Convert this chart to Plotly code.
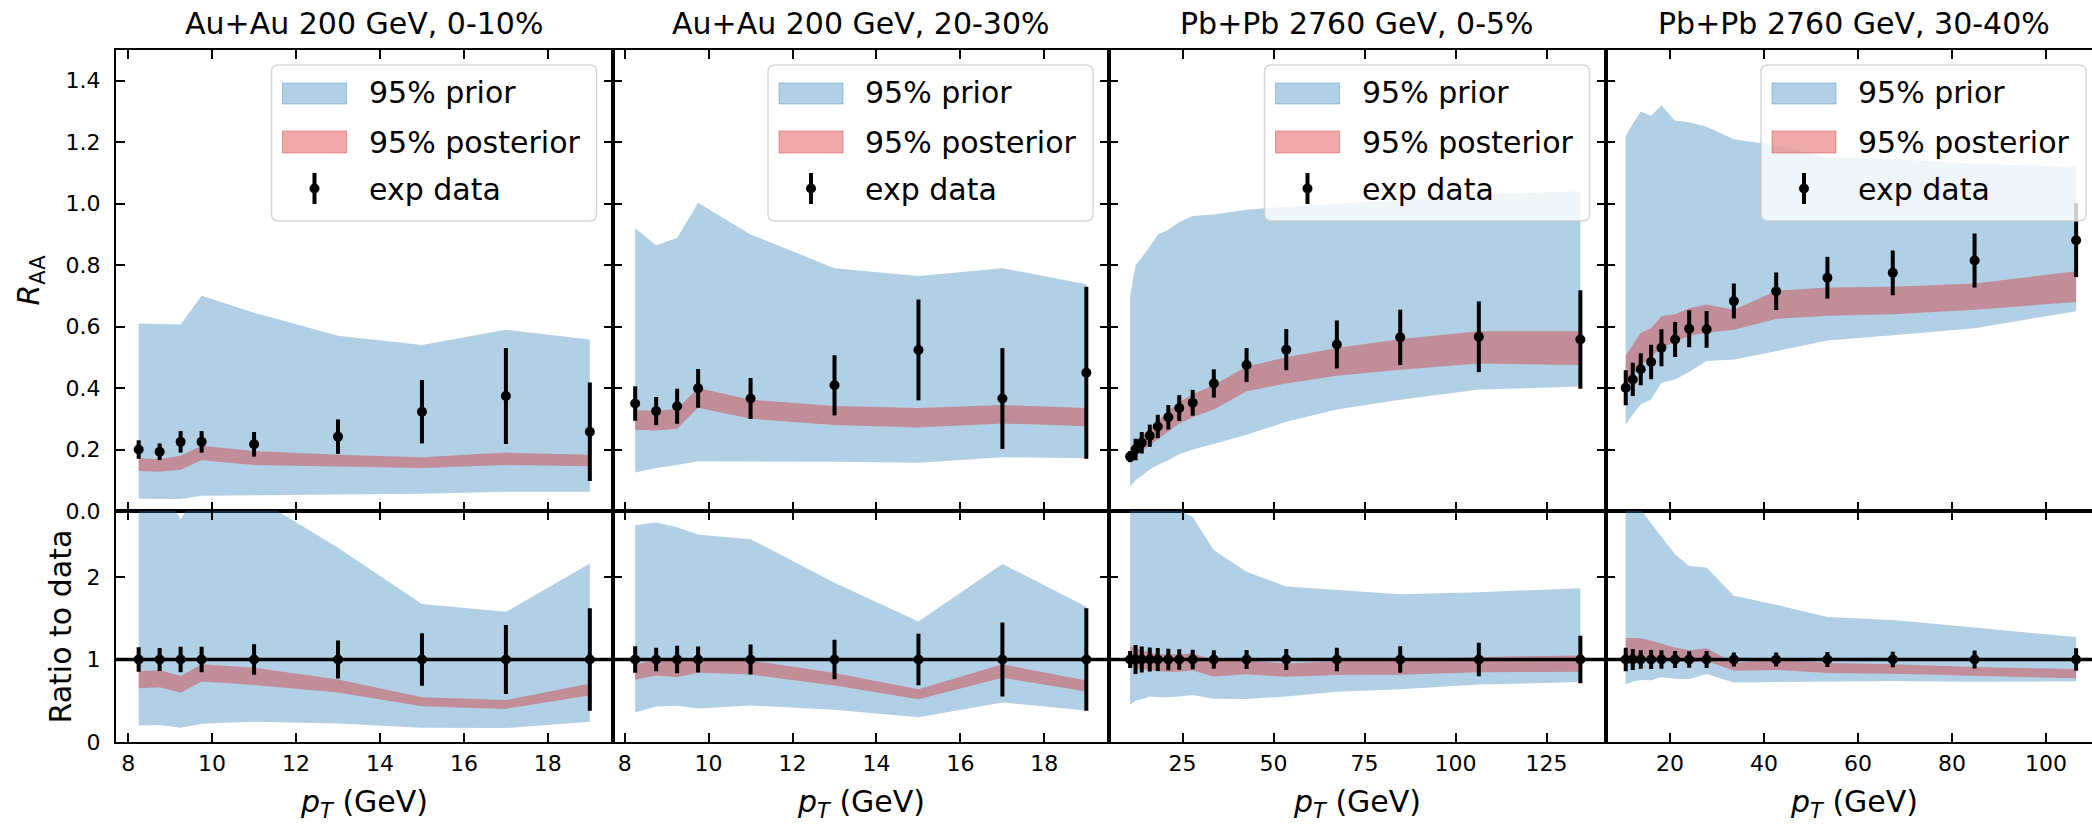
import plotly.graph_objects as go
from plotly.subplots import make_subplots

# ---------------------------------------------------------------- data ----
titles = ["Au+Au 200 GeV, 0-10%", "Au+Au 200 GeV, 20-30%",
          "Pb+Pb 2760 GeV, 0-5%", "Pb+Pb 2760 GeV, 30-40%"]

# pT bins (GeV)
pt_auau = [8.25, 8.75, 9.25, 9.75, 11.0, 13.0, 15.0, 17.0, 19.0]
pt_pbpb = [10.6, 12.1, 13.8, 16.0, 18.2, 21.1, 24.1, 27.8, 33.6, 42.6,
           53.5, 67.4, 84.8, 106.4, 134.3]

# Au+Au 200 GeV, 0-10%
raa_au_0010 = [0.200, 0.193, 0.225, 0.225, 0.217, 0.242, 0.323, 0.374, 0.258]
err_au_0010 = [0.030, 0.027, 0.035, 0.035, 0.040, 0.056, 0.103, 0.156, 0.160]
prior_lo_au_0010 = [0.040, 0.040, 0.039, 0.050, 0.053, 0.054, 0.056, 0.063, 0.063]
prior_hi_au_0010 = [0.610, 0.608, 0.607, 0.700, 0.645, 0.570, 0.540, 0.590, 0.558]
post_lo_au_0010 = [0.130, 0.128, 0.134, 0.165, 0.150, 0.145, 0.140, 0.150, 0.146]
post_hi_au_0010 = [0.172, 0.168, 0.180, 0.212, 0.195, 0.183, 0.175, 0.190, 0.183]

# Au+Au 200 GeV, 20-30%
raa_au_2030 = [0.350, 0.325, 0.341, 0.399, 0.366, 0.409, 0.524, 0.366, 0.450]
err_au_2030 = [0.056, 0.046, 0.057, 0.063, 0.067, 0.098, 0.164, 0.164, 0.280]
prior_lo_au_2030 = [0.125, 0.140, 0.150, 0.162, 0.162, 0.160, 0.157, 0.175, 0.172]
prior_hi_au_2030 = [0.920, 0.865, 0.888, 1.003, 0.900, 0.790, 0.765, 0.790, 0.738]
post_lo_au_2030 = [0.264, 0.262, 0.268, 0.336, 0.300, 0.280, 0.272, 0.285, 0.276]
post_hi_au_2030 = [0.328, 0.326, 0.332, 0.400, 0.362, 0.342, 0.335, 0.345, 0.335]

# Pb+Pb 2760 GeV, 0-5%
raa_pb_0005 = [0.177, 0.200, 0.222, 0.245, 0.275, 0.305, 0.335, 0.352, 0.415,
               0.475, 0.525, 0.542, 0.565, 0.567, 0.558]
err_pb_0005 = [0.018, 0.035, 0.035, 0.036, 0.038, 0.040, 0.042, 0.042, 0.046,
               0.055, 0.067, 0.078, 0.090, 0.115, 0.160]
prior_lo_pb_0005 = [0.080, 0.100, 0.115, 0.135, 0.150, 0.165, 0.185, 0.200, 0.218,
                    0.248, 0.290, 0.330, 0.362, 0.395, 0.405]
prior_hi_pb_0005 = [0.700, 0.800, 0.825, 0.860, 0.900, 0.915, 0.940, 0.960, 0.965,
                    0.980, 0.990, 1.000, 1.012, 1.030, 1.040]
post_lo_pb_0005 = [0.165, 0.180, 0.195, 0.215, 0.235, 0.260, 0.285, 0.305, 0.330,
                   0.390, 0.415, 0.440, 0.460, 0.480, 0.475]
post_hi_pb_0005 = [0.205, 0.230, 0.245, 0.268, 0.292, 0.325, 0.355, 0.380, 0.410,
                   0.470, 0.500, 0.530, 0.560, 0.585, 0.585]

# Pb+Pb 2760 GeV, 30-40% (no last bin)
raa_pb_3040 = [0.401, 0.428, 0.461, 0.485, 0.531, 0.558, 0.593, 0.591, 0.683,
               0.715, 0.759, 0.775, 0.815, 0.881]
err_pb_3040 = [0.057, 0.054, 0.052, 0.056, 0.060, 0.057, 0.060, 0.060, 0.057,
               0.061, 0.068, 0.073, 0.088, 0.120]
prior_lo_pb_3040 = [0.280, 0.314, 0.347, 0.363, 0.417, 0.428, 0.452, 0.488, 0.493,
                    0.520, 0.555, 0.572, 0.595, 0.650]
prior_hi_pb_3040 = [1.220, 1.260, 1.300, 1.285, 1.320, 1.270, 1.265, 1.250, 1.210,
                    1.190, 1.150, 1.145, 1.130, 1.120]
post_lo_pb_3040 = [0.400, 0.440, 0.475, 0.500, 0.530, 0.550, 0.570, 0.580, 0.590,
                   0.625, 0.635, 0.640, 0.655, 0.680]
post_hi_pb_3040 = [0.505, 0.540, 0.580, 0.595, 0.634, 0.640, 0.660, 0.672, 0.655,
                   0.716, 0.727, 0.730, 0.740, 0.780]

legend_labels = ["95% prior", "95% posterior", "exp data"]

panels = [
    dict(pt=pt_auau, raa=raa_au_0010, err=err_au_0010,
         prior=(prior_lo_au_0010, prior_hi_au_0010),
         post=(post_lo_au_0010, post_hi_au_0010),
         xr=(7.71, 19.54), dtick=2),
    dict(pt=pt_auau, raa=raa_au_2030, err=err_au_2030,
         prior=(prior_lo_au_2030, prior_hi_au_2030),
         post=(post_lo_au_2030, post_hi_au_2030),
         xr=(7.71, 19.54), dtick=2),
    dict(pt=pt_pbpb, raa=raa_pb_0005, err=err_pb_0005,
         prior=(prior_lo_pb_0005, prior_hi_pb_0005),
         post=(post_lo_pb_0005, post_hi_pb_0005),
         xr=(4.8, 141.2), dtick=25),
    dict(pt=pt_pbpb[:len(raa_pb_3040)], raa=raa_pb_3040, err=err_pb_3040,
         prior=(prior_lo_pb_3040, prior_hi_pb_3040),
         post=(post_lo_pb_3040, post_hi_pb_3040),
         xr=(6.3, 111.9), dtick=20),
]

# -------------------------------------------------------------- layout ----
FIG_W, FIG_H = 2092, 824
M_L, M_R, M_T, M_B = 116, 0, 50, 82
PLOT_W = FIG_W - M_L - M_R
PLOT_H = FIG_H - M_T - M_B
PANEL_W = 496.5
ROW_SPLIT = 511          # pixel row where the R_AA and ratio panels meet

PRIOR_FILL = "rgba(31,119,180,0.35)"
POST_FILL = "rgba(214,39,40,0.40)"
FONT = "DejaVu Sans"


def px_x(px):
    return (px - M_L) / PLOT_W


def px_y(py):
    return (FIG_H - M_B - py) / PLOT_H


fig = make_subplots(rows=2, cols=4, horizontal_spacing=0, vertical_spacing=0)

axis_style = dict(showline=True, linecolor="black", linewidth=2,
                  ticks="inside", ticklen=9, tickwidth=1.8, tickcolor="black",
                  showgrid=False, zeroline=False,
                  tickfont=dict(family=FONT, size=22, color="black"))

annotations = []
shapes = []


def band(x, lo, hi, color):
    return go.Scatter(x=list(x) + list(x)[::-1], y=list(hi) + list(lo)[::-1],
                      fill="toself", fillcolor=color, mode="lines",
                      line=dict(width=0), hoverinfo="skip", showlegend=False)


def points(x, y, e):
    return go.Scatter(x=x, y=y, mode="markers",
                      marker=dict(size=10, color="black"),
                      error_y=dict(type="data", array=e, thickness=4, width=0,
                                   color="black"),
                      showlegend=False)


for c, p in enumerate(panels):
    col = c + 1
    left = M_L + c * PANEL_W
    right_full = left + PANEL_W
    right = min(right_full, FIG_W)
    frac = (right - left) / PANEL_W
    x0, x1 = p["xr"]
    xrange = [x0, x0 + (x1 - x0) * frac]
    dom = [px_x(left), min(px_x(right), 1.0)]

    pt, raa, err = p["pt"], p["raa"], p["err"]
    plo, phi = p["prior"]
    qlo, qhi = p["post"]

    # upper row: R_AA
    fig.add_trace(band(pt, plo, phi, PRIOR_FILL), row=1, col=col)
    fig.add_trace(band(pt, qlo, qhi, POST_FILL), row=1, col=col)
    fig.add_trace(points(pt, raa, err), row=1, col=col)

    # lower row: everything divided by the measured value
    r_plo = [a / d for a, d in zip(plo, raa)]
    r_phi = [a / d for a, d in zip(phi, raa)]
    r_qlo = [a / d for a, d in zip(qlo, raa)]
    r_qhi = [a / d for a, d in zip(qhi, raa)]
    r_err = [e / d for e, d in zip(err, raa)]
    fig.add_trace(band(pt, r_plo, r_phi, PRIOR_FILL), row=2, col=col)
    fig.add_trace(band(pt, r_qlo, r_qhi, POST_FILL), row=2, col=col)
    fig.add_trace(points(pt, [1.0] * len(pt), r_err), row=2, col=col)

    last = (right < right_full)
    for r in (1, 2):
        fig.update_xaxes(axis_style, domain=dom, range=xrange, dtick=p["dtick"],
                         tick0=0, mirror="ticks",
                         showticklabels=(r == 2), ticklabelstandoff=1,
                         row=r, col=col)
    fig.update_yaxes(axis_style, domain=[px_y(ROW_SPLIT), 1.0], range=[0, 1.5],
                     dtick=0.2, tick0=0, tickformat=".1f",
                     mirror=(False if last else "ticks"),
                     showticklabels=(c == 0), ticklabelstandoff=9,
                     row=1, col=col)
    fig.update_yaxes(axis_style, domain=[0.0, px_y(ROW_SPLIT)], range=[0, 2.8],
                     dtick=1, tick0=0,
                     mirror=(False if last else "ticks"),
                     showticklabels=(c == 0), ticklabelstandoff=9,
                     row=2, col=col)

    # unity line in the ratio panel
    xa = fig.get_subplot(2, col).xaxis.plotly_name.replace("axis", "")
    ya = fig.get_subplot(2, col).yaxis.plotly_name.replace("axis", "")
    shapes.append(dict(type="line", xref=f"{xa} domain", yref=ya,
                       x0=0, x1=1, y0=1, y1=1, layer="above",
                       line=dict(color="black", width=3.5)))

    # panel title and x label
    cx = px_x((left + right_full) / 2)
    annotations.append(dict(text=titles[c], xref="paper", yref="paper",
                            x=cx, y=px_y(23), xanchor="center", yanchor="middle",
                            showarrow=False, font=dict(family=FONT, size=30, color="black")))
    annotations.append(dict(text="<i>p</i><sub><i>T</i></sub> (GeV)",
                            xref="paper", yref="paper",
                            x=cx, y=px_y(803), xanchor="center", yanchor="middle",
                            showarrow=False, font=dict(family=FONT, size=30, color="black")))

    # legend box, drawn by hand in each R_AA panel
    lx0, lx1 = right_full - 341, right_full - 16
    ly0, ly1 = 65, 221
    rad = 7

    def P(x, y):
        return f"{px_x(x):.6f},{px_y(y):.6f}"

    path = (f"M {P(lx0 + rad, ly0)} L {P(lx1 - rad, ly0)} Q {P(lx1, ly0)} {P(lx1, ly0 + rad)} "
            f"L {P(lx1, ly1 - rad)} Q {P(lx1, ly1)} {P(lx1 - rad, ly1)} "
            f"L {P(lx0 + rad, ly1)} Q {P(lx0, ly1)} {P(lx0, ly1 - rad)} "
            f"L {P(lx0, ly0 + rad)} Q {P(lx0, ly0)} {P(lx0 + rad, ly0)} Z")
    shapes.append(dict(type="path", path=path, xref="paper", yref="paper",
                       fillcolor="rgba(255,255,255,0.8)",
                       line=dict(color="rgba(204,204,204,0.8)", width=1.5),
                       layer="above"))
    for fill, (ya0, ya1) in ((PRIOR_FILL, (83, 104)), (POST_FILL, (131, 153))):
        shapes.append(dict(type="rect", xref="paper", yref="paper",
                           x0=px_x(lx0 + 11), x1=px_x(lx0 + 75),
                           y0=px_y(ya1), y1=px_y(ya0),
                           fillcolor=fill, line=dict(color=fill, width=1),
                           layer="above"))
    ex = lx0 + 43
    shapes.append(dict(type="line", xref="paper", yref="paper",
                       x0=px_x(ex), x1=px_x(ex), y0=px_y(204), y1=px_y(173),
                       line=dict(color="black", width=4), layer="above"))
    shapes.append(dict(type="circle", xref="paper", yref="paper",
                       x0=px_x(ex - 5), x1=px_x(ex + 5),
                       y0=px_y(193.5), y1=px_y(183.5),
                       fillcolor="black", line=dict(width=0), layer="above"))
    for lab, yc in zip(legend_labels, (93, 142, 189)):
        annotations.append(dict(text=lab, xref="paper", yref="paper",
                                x=px_x(lx0 + 95), y=px_y(yc),
                                xanchor="left", yanchor="middle", showarrow=False,
                                font=dict(family=FONT, size=30, color="black")))

# y-axis labels
annotations.append(dict(text="<i>R</i><sub>AA</sub>", xref="paper", yref="paper",
                        x=px_x(30), y=px_y((M_T + ROW_SPLIT) / 2),
                        xanchor="center", yanchor="middle", textangle=-90,
                        showarrow=False, font=dict(family=FONT, size=30, color="black")))
annotations.append(dict(text="Ratio to data", xref="paper", yref="paper",
                        x=px_x(60), y=px_y((ROW_SPLIT + FIG_H - M_B) / 2),
                        xanchor="center", yanchor="middle", textangle=-90,
                        showarrow=False, font=dict(family=FONT, size=30, color="black")))

fig.update_layout(width=FIG_W, height=FIG_H,
                  margin=dict(l=M_L, r=M_R, t=M_T, b=M_B, pad=0),
                  plot_bgcolor="white", paper_bgcolor="white",
                  showlegend=False, font=dict(family=FONT, color="black"),
                  shapes=shapes, annotations=annotations)

fig.write_html("out.html")
